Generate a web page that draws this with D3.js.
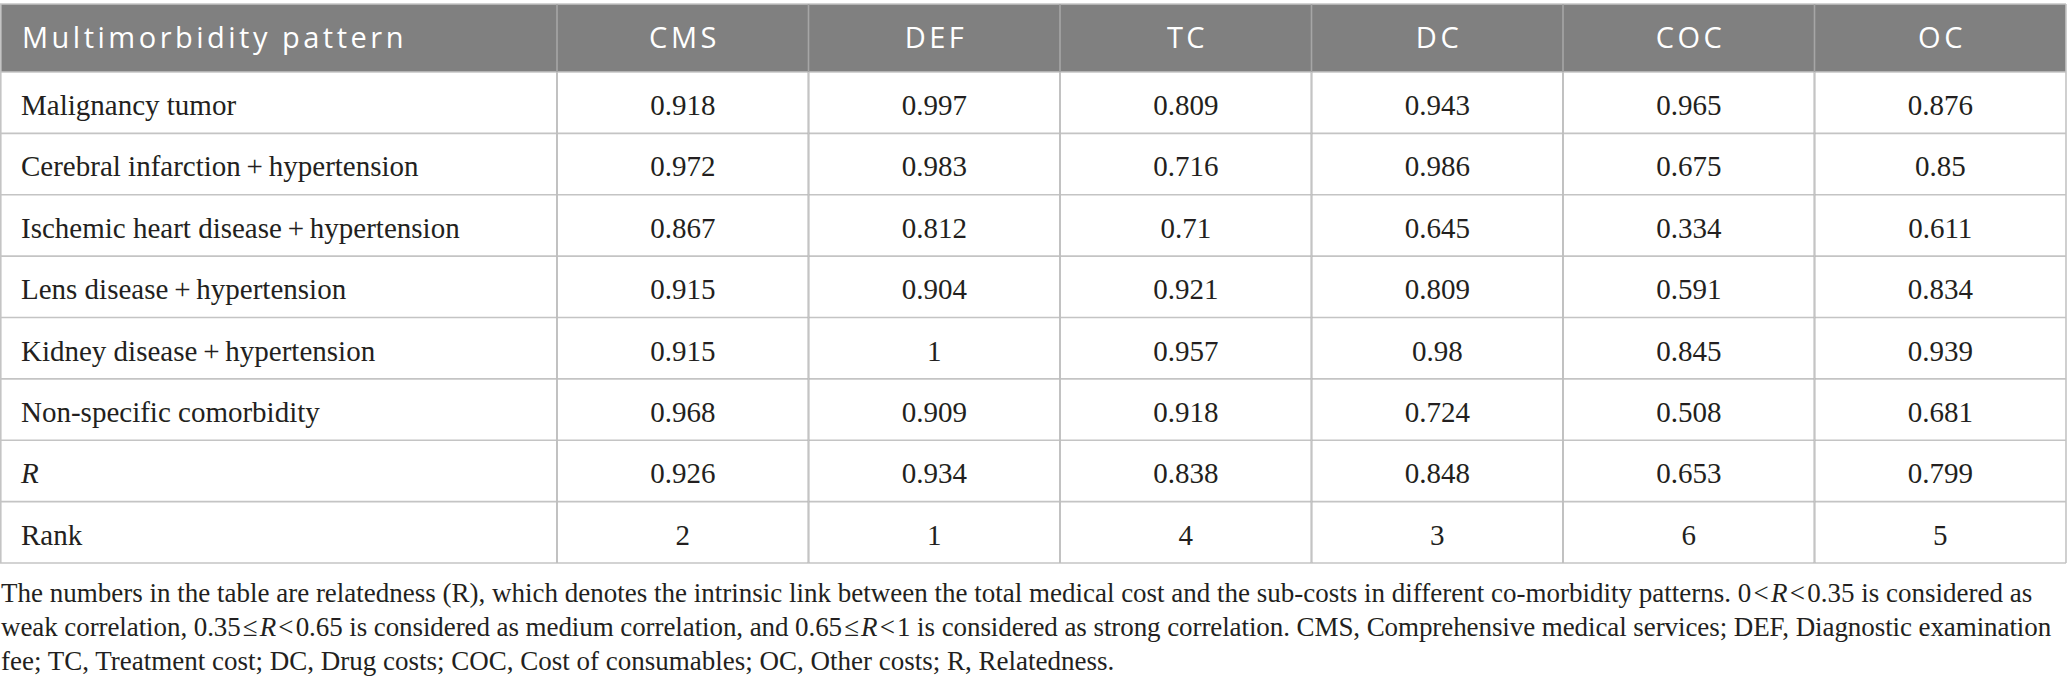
<!DOCTYPE html>
<html lang="en">
<head>
<meta charset="UTF-8">
<title>Multimorbidity pattern relatedness</title>
<script src="https://d3js.org/d3.v7.min.js"></script>
<style>
    body { margin: 0; background: #fff; }
    .head { font-family: "Open Sans", sans-serif; font-size: 29px; letter-spacing: 3.5px; fill: #fff; }
    .cell { font-family: "Liberation Serif", "Times New Roman", Times, serif; font-size: 29px; fill: #231f20; }
    .note { font-family: "Liberation Serif", "Times New Roman", Times, serif; font-size: 27px; fill: #231f20; }
    .grid { stroke: #c4c4c4; stroke-width: 1.6; }
</style>
</head>
<body>
<svg width="2067" height="691"></svg>
<script>
const columns = ["CMS", "DEF", "TC", "DC", "COC", "OC"];
const patterns = [
    "Malignancy tumor",
    "Cerebral infarction\u2009+\u2009hypertension",
    "Ischemic heart disease\u2009+\u2009hypertension",
    "Lens disease\u2009+\u2009hypertension",
    "Kidney disease\u2009+\u2009hypertension",
    "Non-specific comorbidity",
    "R",
    "Rank"
];
const cms = [0.918, 0.972, 0.867, 0.915, 0.915, 0.968, 0.926, 2];
const def = [0.997, 0.983, 0.812, 0.904, 1, 0.909, 0.934, 1];
const tc  = [0.809, 0.716, 0.71, 0.921, 0.957, 0.918, 0.838, 4];
const dc  = [0.943, 0.986, 0.645, 0.809, 0.98, 0.724, 0.848, 3];
const coc = [0.965, 0.675, 0.334, 0.591, 0.845, 0.508, 0.653, 6];
const oc  = [0.876, 0.85, 0.611, 0.834, 0.939, 0.681, 0.799, 5];
const values = [cms, def, tc, dc, coc, oc];

// footnote lines, broken as in the source; "R" pieces are italic
const hs = "\u200a";
const noteLines = [
    ["The numbers in the table are relatedness (R), which denotes the intrinsic link between the total medical cost and the sub-costs in different co-morbidity patterns. 0" + hs + "<" + hs, {i: "R"}, hs + "<" + hs + "0.35 is considered as"],
    ["weak correlation, 0.35" + hs + "\u2264" + hs, {i: "R"}, hs + "<" + hs + "0.65 is considered as medium correlation, and 0.65" + hs + "\u2264" + hs, {i: "R"}, hs + "<" + hs + "1 is considered as strong correlation. CMS, Comprehensive medical services; DEF, Diagnostic examination"],
    ["fee; TC, Treatment cost; DC, Drug costs; COC, Cost of consumables; OC, Other costs; R, Relatedness."]
];

const svg = d3.select("svg");
const left = 0, right = 2066, firstCol = 557;
const headTop = 4, headBottom = 72, tableBottom = 563;

const x = d3.scaleBand().domain(columns).range([firstCol, right]);
const y = d3.scaleBand().domain(d3.range(patterns.length)).range([headBottom, tableBottom]);

// header band
svg.append("rect")
    .attr("x", left).attr("y", headTop)
    .attr("width", right - left).attr("height", headBottom - headTop)
    .attr("fill", "#808080");

// horizontal rules
const hLines = [headTop, ...y.domain().map(d => y(d)), tableBottom];
svg.selectAll(".hline").data(hLines).enter().append("line")
    .attr("class", "grid")
    .attr("x1", left).attr("x2", right)
    .attr("y1", d => d).attr("y2", d => d);

// vertical rules (slightly lighter inside the header band)
const vLines = [left + 0.8, ...columns.map(c => x(c)), right];
svg.selectAll(".vline").data(vLines).enter().append("line")
    .attr("class", "grid")
    .attr("x1", d => d).attr("x2", d => d)
    .attr("y1", headTop).attr("y2", tableBottom)
    .style("stroke", (d, i) => i > 0 && i < vLines.length - 1 ? "#a6a6a6" : null);
svg.selectAll(".vbody").data(columns).enter().append("line")
    .attr("class", "grid")
    .attr("x1", d => x(d)).attr("x2", d => x(d))
    .attr("y1", headBottom).attr("y2", tableBottom);

// header text
svg.append("text").attr("class", "head")
    .attr("x", 22).attr("y", 48)
    .text("Multimorbidity pattern");
svg.selectAll(".colhead").data(columns).enter().append("text")
    .attr("class", "head")
    .attr("x", d => x(d) + x.bandwidth() / 2 + 1.75).attr("y", 48)
    .attr("text-anchor", "middle")
    .text(d => d);

// row labels
svg.selectAll(".rowlab").data(patterns).enter().append("text")
    .attr("class", "cell")
    .attr("x", 21)
    .attr("y", (d, i) => y(i) + 43)
    .style("font-style", d => d === "R" ? "italic" : null)
    .text(d => d);

// cell values
columns.forEach((c, ci) => {
    svg.selectAll(".v" + c).data(values[ci]).enter().append("text")
        .attr("class", "cell")
        .attr("x", x(c) + x.bandwidth() / 2)
        .attr("y", (d, i) => y(i) + 43)
        .attr("text-anchor", "middle")
        .text(d => String(d));
});

// footnote
const noteBase = [602, 636, 670];
const noteTrack = [0, -0.08, 0];
noteLines.forEach((parts, li) => {
    const t = svg.append("text").attr("class", "note")
        .attr("x", 1).attr("y", noteBase[li])
        .style("letter-spacing", noteTrack[li] + "px");
    parts.forEach(p => {
        if (typeof p === "string") t.append("tspan").text(p);
        else t.append("tspan").style("font-style", "italic").text(p.i);
    });
});
</script>
</body>
</html>
